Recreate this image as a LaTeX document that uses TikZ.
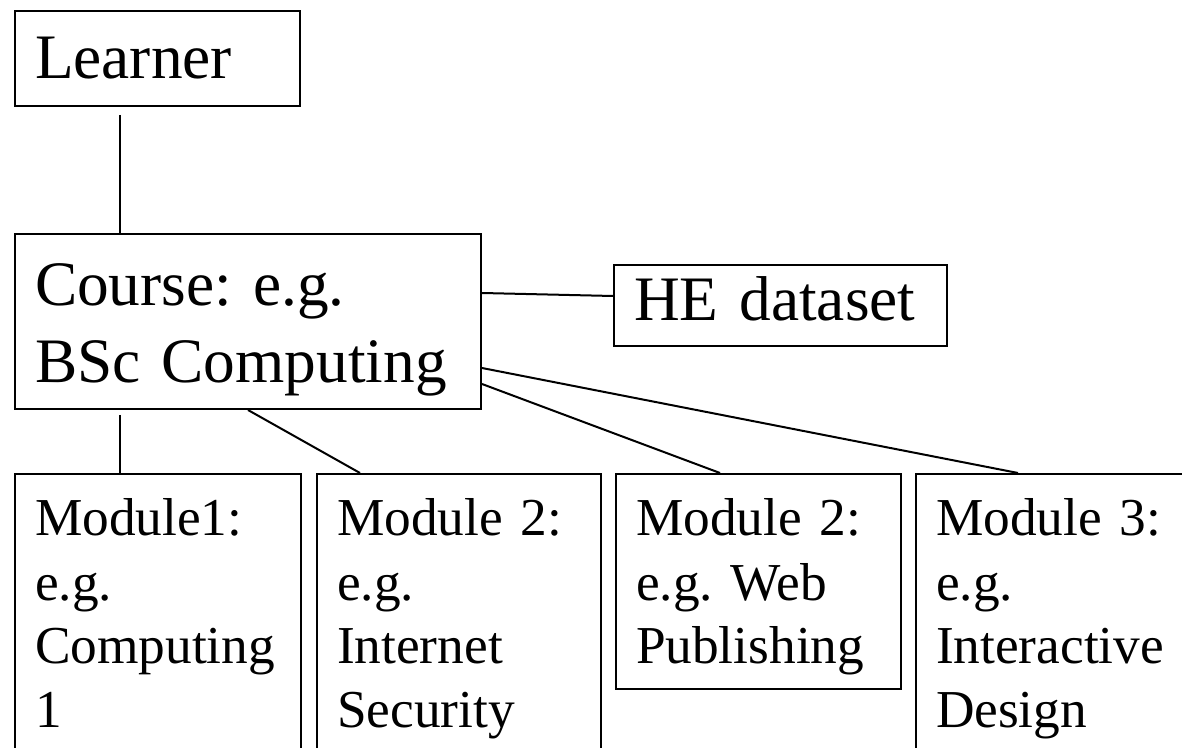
\documentclass[tikz,border=0pt]{standalone}
\usepackage{fontspec}
\setmainfont{Liberation Serif}
\usetikzlibrary{calc}
\hyphenpenalty=10000
\frenchspacing

\tikzset{every picture/.style={line width=1.5pt}}
\tikzset{
  box/.style={draw, anchor=north west, inner ysep=0pt, inner xsep=15pt, align=left, text width=#1},
  bigtext/.style={font=\fontsize{47.5}{57.75}\selectfont},
  smalltext/.style={font=\fontsize{40}{48}\selectfont},
}

\begin{document}
\begin{tikzpicture}[x=0.75pt,y=0.75pt,yscale=-1,xscale=1]
	\clip (0,0) rectangle (1182,748);

	% Text Node
	\node [box=183.75pt, bigtext, text height=51pt, text depth=20.25pt] (learner) at (14,10) {Learner};
	% Text Node
	\node [box=319.5pt, bigtext, text height=54pt, text depth=77.25pt] (course) at (14,233) {Course: e.g.\\BSc Computing};
	% Text Node
	\node [box=219.75pt, bigtext, text height=42pt, text depth=18.75pt] (he) at (613,264) {HE dataset};
	% Text Node
	\node [box=184.5pt, smalltext, text height=46.5pt, text depth=176.25pt] (mod1) at (14,473) {Module1:\\e.g.\\Computing\\1};
	% Text Node
	\node [box=183pt, smalltext, text height=46.5pt, text depth=176.25pt] (mod2) at (316,473) {Module 2:\\e.g.\\Internet\\Security};
	% Text Node
	\node [box=183.75pt, smalltext, text height=46.5pt, text depth=114.75pt] (web) at (615,473) {Module 2:\\e.g. Web\\Publishing};
	% Text Node
	\node [box=183.75pt, smalltext, text height=46.5pt, text depth=176.25pt] (mod3) at (915,473) {Module 3:\\e.g.\\Interactive\\Design};

	%Straight Lines
	\draw ($(learner.south west)+(106,8)$) -- ($(course.north west)+(106,0)$);
	\draw ($(course.north east)+(0,60)$) -- ($(he.north west)+(0,32)$);
	\draw ($(course.south west)+(106,5)$) -- ($(mod1.north west)+(106,0)$);
	\draw ($(course.south west)+(234,0)$) -- ($(mod2.north west)+(44,0)$);
	\draw ($(course.north east)+(0,151)$) -- ($(web.north west)+(105,0)$);
	\draw ($(course.north east)+(0,135)$) -- ($(mod3.north west)+(103,0)$);

\end{tikzpicture}
\end{document}
